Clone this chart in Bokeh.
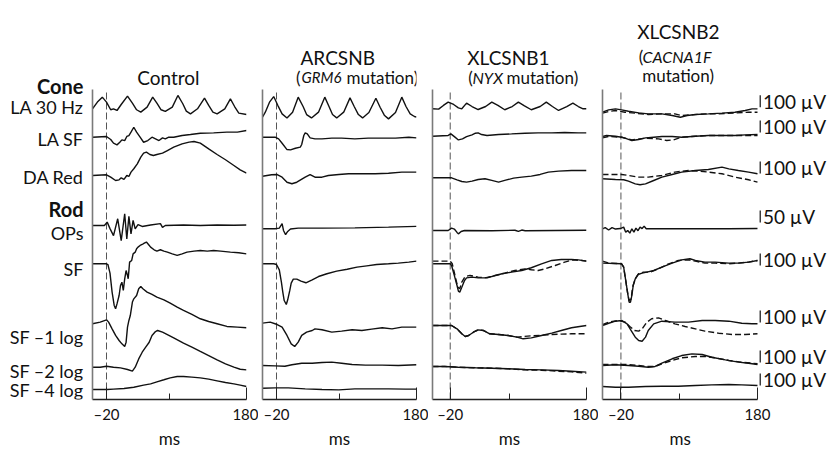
from bokeh.plotting import figure
from bokeh.models import Range1d, FixedTicker, Title
from bokeh.layouts import row
from bokeh.embed import file_html
from bokeh.resources import INLINE
from bokeh.core.properties import value

# ---------------- data: time (ms) and amplitude (µV) ----------------
ROW_NAMES = ["LA 30 Hz", "LA SF", "DA Red", "OPs", "SF", "SF –1 log", "SF –2 log", "SF –4 log"]
GROUP_NAMES = ["Cone", "Rod"]
SCALE_UV = [100, 100, 100, 50, 100, 100, 100, 100]
GAIN = [1, 1, 1, 2, 1, 1, 1, 1]

# Control
c_la30_t = [-40, -33, -26, -20, -14, -10, -5, 1, 10, 17, 23, 29, 38, 46, 52, 58, 64, 74, 82, 89, 94, 100, 110, 120, 126, 132, 138, 149, 157, 163, 169, 180]
c_la30_uv = [0, 56, 97, 56, -8, 0, -14, 36, 106, 47, -8, -28, 14, 97, 47, -8, -22, 14, 111, 42, -19, -42, 0, 89, 28, -28, -42, 0, 83, 19, -36, -47]
c_lasf_t = [-40, -20, -14, -10, -5, -1, 2, 6, 9, 12, 15, 19, 23, 28, 33, 39, 45, 50, 55, 60, 64, 69, 76, 88, 100, 114, 133, 152, 167, 180]
c_lasf_uv = [0, 6, -19, -50, -64, -42, -22, -28, 6, 14, 42, 83, 42, 0, -42, -28, 0, -14, -28, -6, -14, 0, 0, 14, 22, 33, 36, 42, 42, 56]
c_dared_t = [-40, -20, -14, -7, -2, 1, 5, 9, 12, 15, 19, 24, 29, 33, 37, 42, 47, 52, 60, 67, 76, 88, 98, 105, 114, 126, 138, 150, 162, 171, 180]
c_dared_uv = [0, 6, -14, -42, -36, -19, -33, 0, -8, 28, 56, 97, 153, 186, 195, 175, 167, 175, 186, 208, 236, 264, 278, 283, 270, 222, 175, 131, 83, 47, 19]
c_ops_t = [-40, -23, -19, -15, -10, -4, 1, 6, 9, 12, 15, 18, 21, 25, 31, 43, 57, 60, 64, 90, 114, 138, 162, 180]
c_ops_uv = [0, 0, 14, -13, -42, 28, -63, 49, -56, 38, -35, 21, -14, 4, -4, 2, 8, -8, 0, 2, 0, 2, 1, 2]
c_sf_t = [-40, -20, -18, -15, -12, -9, -7, -5, -2, 0, 2, 4, 6, 8, 10, 11, 13, 16, 18, 21, 23, 25, 28, 31, 34, 37, 40, 43, 48, 52, 57, 62, 67, 74, 81, 88, 95, 105, 114, 124, 133, 143, 157, 169, 180]
c_sf_uv = [0, 0, -6, -78, -236, -347, -375, -334, -264, -181, -153, -222, -125, -56, -97, -125, 14, 28, 83, 97, 125, 139, 153, 161, 172, 181, 161, 139, 117, 106, 117, 106, 97, 83, 70, 83, 97, 106, 111, 106, 111, 106, 97, 92, 83]
c_sf1_t = [-40, -29, -20, -17, -12, -7, -2, 2, 6, 8, 10, 12, 14, 17, 19, 23, 26, 29, 32, 38, 45, 52, 62, 71, 81, 90, 102, 114, 126, 138, 152, 167, 180]
c_sf1_uv = [0, 14, 33, 14, -42, -97, -139, -167, -189, -153, -28, 28, 69, 181, 208, 236, 292, 311, 292, 264, 245, 222, 200, 172, 139, 111, 78, 42, 19, 0, -22, -28, -33]
c_sf2_t = [-40, -29, -20, -10, 0, 10, 17, 21, 26, 31, 36, 41, 45, 50, 53, 60, 67, 76, 90, 102, 114, 126, 138, 150, 162, 171, 180]
c_sf2_uv = [0, 0, 8, 0, -6, -19, -33, 0, 69, 125, 167, 208, 264, 297, 306, 292, 272, 245, 200, 167, 131, 97, 61, 28, 0, -17, -22]
c_sf4_t = [-40, -19, -10, 5, 19, 33, 43, 52, 62, 71, 81, 90, 102, 114, 126, 138, 150, 162, 171, 180]
c_sf4_uv = [0, 0, 3, 8, 19, 36, 47, 64, 81, 97, 108, 108, 103, 97, 86, 72, 58, 47, 36, 25]

# ARCSNB (GRM6)
g_la30_t = [-40, -36, -30, -24, -18, -12, -5, 3, 11, 18, 23, 30, 40, 49, 55, 60, 66, 76, 85, 91, 97, 103, 112, 122, 128, 134, 140, 150, 159, 165, 171, 177, 180]
g_la30_uv = [0, 42, 125, 172, 97, 28, -6, 42, 167, 89, 22, -6, 42, 167, 89, 22, -6, 42, 161, 89, 22, -6, 39, 158, 83, 17, -14, 39, 167, 89, 28, 6, 0]
g_lasf_t = [-40, -22, -17, -12, -5, 0, 7, 14, 16, 19, 21, 24, 28, 35, 45, 59, 73, 92, 111, 131, 150, 169, 180]
g_lasf_uv = [0, 0, -14, -50, -103, -106, -92, -83, -61, 14, 36, 28, -6, -14, -14, -8, -8, -14, -8, -8, -8, 0, -6]
g_dared_t = [-40, -27, -19, -12, -5, 2, 9, 21, 28, 35, 45, 54, 69, 83, 102, 121, 140, 159, 180]
g_dared_uv = [-6, 6, 8, -14, -56, -69, -56, -14, 8, -14, -14, 0, 8, 14, 14, 14, 19, 28, 28]
g_ops_t = [-40, -22, -16, -12, -10, -7, -4, 0, 11, 45, 92, 140, 180]
g_ops_uv = [0, 0, 3, 22, -7, -24, -11, -1, 3, 3, 4, 7, 10]
g_sf_t = [-40, -24, -20, -16, -13, -11, -9, -6, -4, -1, 1, 4, 9, 15, 22, 31, 40, 52, 66, 81, 95, 109, 123, 140, 154, 169, 180]
g_sf_uv = [0, 0, -6, -50, -153, -236, -306, -339, -300, -222, -161, -128, -128, -145, -158, -133, -106, -83, -61, -45, -28, -17, -6, 0, 6, 14, 22]
g_sf1_t = [-40, -29, -19, -12, -5, 1, 6, 11, 16, 23, 31, 35, 45, 59, 73, 88, 102, 116, 131, 145, 159, 173, 180]
g_sf1_uv = [6, 14, -6, -28, -97, -167, -189, -153, -97, -69, -56, -42, -50, -69, -61, -50, -56, -44, -33, -42, -28, -28, -28]
g_sf2_t = [-40, -22, -8, 2, 16, 31, 45, 59, 73, 88, 107, 131, 154, 180]
g_sf2_uv = [0, -3, -6, 6, 19, 19, 25, 28, 19, 8, 3, 3, 0, 6]
g_sf4_t = [-40, -22, -3, 21, 45, 69, 92, 116, 140, 164, 180]
g_sf4_uv = [0, 3, 3, -6, -11, -14, -6, -6, -6, -8, -8]

# XLCSNB1 (NYX); solid and dashed traces
n_la30_t = [-46, -37, -30, -23, -15, -8, -3, 4, 12, 21, 32, 41, 50, 60, 71, 80, 89, 99, 112, 121, 130, 139, 151, 160, 168, 175, 180]
n_la30_uv = [0, -3, 28, 56, 36, 8, 0, 47, 19, -6, 19, 56, 28, -8, 19, 56, 25, -8, 19, 56, 19, -14, 19, 47, 19, 0, 0]
n_lasf_t = [-46, -23, -19, -13, -8, -2, 4, 12, 17, 21, 26, 34, 51, 70, 90, 109, 129, 148, 168, 180]
n_lasf_uv = [0, 6, 19, -8, -31, -22, -3, 11, 25, 28, 14, 6, 14, 19, 25, 28, 28, 31, 28, 28]
n_dared_t = [-46, -18, -10, -3, 4, 12, 21, 31, 41, 51, 60, 73, 85, 99, 112, 124, 139, 158, 180]
n_dared_uv = [0, 0, -17, -31, -36, -28, -14, -8, -22, -36, -22, -3, 6, 14, 28, 47, 56, 61, 61]
n_ops_t = [-46, -23, -18, -14, -10, -8, -4, 1, 41, 75, 80, 85, 90, 180]
n_ops_uv = [0, 0, 10, 6, -8, -14, -4, 0, -1, 1, -4, 2, -1, 1]
n_sf_t = [-46, -20, -18, -14, -10, -8, -6, -3, 1, 4, 12, 21, 31, 41, 56, 70, 85, 99, 114, 129, 143, 158, 168, 180]
n_sf_uv = [0, 0, -14, -97, -181, -228, -236, -195, -139, -117, -111, -117, -117, -106, -83, -69, -56, -33, 0, 28, 36, 36, 33, 22]
n_sf_d_t = [-46, -20, -17, -13, -9, -6, -3, 2, 9, 21, 34, 46, 60, 75, 90, 99, 109, 119, 134, 148, 160, 173, 180]
n_sf_d_uv = [22, 22, 0, -97, -194, -208, -153, -106, -97, -111, -117, -97, -78, -56, -42, -50, -56, -42, -14, 14, 33, 28, 22]
n_sf1_t = [-46, -18, -10, -3, 2, 7, 14, 21, 29, 38, 51, 65, 78, 87, 99, 114, 129, 143, 158, 170, 180]
n_sf1_uv = [0, 0, -28, -69, -92, -83, -56, -36, -42, -69, -75, -83, -97, -111, -103, -83, -64, -42, -19, -8, 0]
n_sf1_d_uv = [0, 0, -28, -69, -92, -83, -56, -36, -42, -69, -75, -83, -97, -92, -86, -81, -75, -72, -69, -69, -69]
n_sf2_t = [-46, -28, -8, 17, 41, 65, 90, 114, 139, 158, 180]
n_sf2_uv = [0, 0, -6, -11, -14, -19, -25, -28, -33, -39, -47]
n_sf2_d_uv = [0, 0, -6, -11, -14, -19, -28, -31, -39, -44, -56]

# XLCSNB2 (CACNA1F); solid and dashed traces
k_la30_t = [-47, -38, -28, -19, -9, 6, 20, 40, 55, 67, 77, 89, 108, 128, 147, 162, 172, 180]
k_la30_uv = [0, 19, 28, 19, 8, -6, -14, -14, -28, -42, -28, -19, -14, -8, 0, 14, 28, 28]
k_la30_d_t = [-47, -38, -28, -14, 1, 20, 40, 59, 69, 84, 103, 123, 147, 167, 180]
k_la30_d_uv = [-8, 6, 14, 0, -8, -19, -14, -14, -28, -22, -14, -14, -6, 0, 0]
k_lasf_t = [-47, -41, -28, -19, -11, -4, 6, 16, 28, 40, 55, 69, 89, 108, 128, 147, 162, 180]
k_lasf_uv = [6, 14, 8, 0, -14, -28, -19, -6, 0, 6, 6, 0, 8, 14, 14, 14, 19, 22]
k_lasf_d_t = [-47, -38, -19, -4, 16, 35, 47, 57, 69, 89, 108, 128, 147, 167, 180]
k_lasf_d_uv = [-6, 6, 0, -22, -8, -14, -28, -22, 0, 8, 14, 14, 14, 14, 14]
k_dared_t = [-47, -28, -16, -9, 1, 8, 16, 28, 40, 55, 69, 89, 108, 128, 138, 152, 167, 180]
k_dared_uv = [0, -6, -8, -19, -42, -50, -42, -14, 14, 36, 56, 69, 78, 97, 83, 69, 56, 42]
k_dared_d_t = [-47, -28, -19, -9, 6, 20, 40, 59, 79, 94, 108, 128, 147, 167, 180]
k_dared_d_uv = [36, 36, 36, 28, 14, 14, 28, 56, 69, 64, 56, 42, 14, -8, -28]
k_ops_t = [-47, -43, -38, -33, -28, -21, -16, -13, -10, -7, -4, -1, 2, 5, 8, 11, 14, 17, 40, 89, 138, 180]
k_ops_uv = [0, 5, -5, 5, -1, 1, 7, -14, -7, -18, 0, -14, 3, -8, 7, 1, 11, 0, 0, 0, 0, 1]
k_sf_t = [-47, -19, -16, -13, -10, -8, -6, -4, -2, 1, 5, 11, 18, 28, 40, 55, 69, 81, 89, 103, 118, 138, 152, 167, 180]
k_sf_uv = [6, 0, -28, -139, -250, -320, -320, -264, -181, -125, -89, -78, -69, -56, -28, 6, 33, 42, 28, 14, 14, 6, 6, 14, 28]
k_sf_d_t = [-47, -38, -19, -16, -13, -10, -8, -5, -3, 1, 6, 13, 23, 35, 50, 64, 79, 89, 103, 118, 138, 152, 167, 180]
k_sf_d_uv = [22, 6, 0, -28, -139, -250, -306, -292, -195, -125, -83, -69, -69, -42, 0, 28, 33, 22, 6, 6, 0, 6, 14, 28]
k_sf1_t = [-47, -38, -28, -19, -11, -5, 1, 6, 11, 16, 20, 28, 40, 59, 79, 99, 118, 138, 157, 172, 180]
k_sf1_uv = [0, 19, 36, 42, 14, -42, -97, -125, -131, -97, -42, 14, 36, 28, 28, 42, 42, 36, 19, 14, 14]
k_sf1_d_t = [-47, -38, -24, -14, -7, 0, 6, 11, 18, 25, 35, 45, 59, 74, 89, 103, 123, 143, 162, 180]
k_sf1_d_uv = [8, 28, 42, 28, -8, -42, -47, -28, 28, 56, 64, 42, 14, -8, -28, -47, -64, -75, -75, -69]
k_sf2_t = [-47, -28, -9, 6, 20, 30, 40, 55, 69, 84, 99, 113, 133, 152, 167, 180]
k_sf2_uv = [0, 6, 0, -6, -14, -8, 19, 56, 83, 97, 92, 69, 47, 28, 19, 8]
k_sf2_d_t = [-47, -28, -9, 6, 20, 30, 40, 55, 69, 89, 103, 118, 138, 157, 180]
k_sf2_d_uv = [8, 8, 8, 0, -8, -8, 14, 42, 64, 75, 75, 64, 42, 28, 14]
k_sf4_t = [-47, -28, -9, 16, 40, 64, 89, 113, 138, 157, 180]
k_sf4_uv = [6, 0, 0, 6, 8, 8, 14, 19, 22, 19, 14]

# ---------------- layout / style ----------------
FONT = "Lato"
INK = "#111111"
H = 450
BOTTOM = 51                 # below the time axis
PLOT_TOP = 399              # frame reaches the top of the page; y unit = 1 px above the axis
TRACE_H = 310               # height of the trace area (left axis length)
UV_PX = 0.12                # 100 µV = 12 px

BASE_C = [290.7, 262.3, 224, 174, 135.7, 75.7, 32.3, 10]
BASE_G = [282.3, 262.3, 224, 170.7, 135.7, 75.7, 34, 11.3]
BASE_N = [290.7, 263.3, 221.7, 169, 135.7, 74, 33, None]
BASE_K = [287.3, 262.3, 220.7, 170.7, 135.7, 74, 34, 12.3]
SCALE_Y = [298.3, 273, 232, 183, 140, 83, 43, 20]
ROW_LABEL_Y = [293, 261, 223, 167, 131, 63, 28.5, 9.5]
GROUP_LABEL_Y = [314, 191]


def txt(p, x, y, s, size="18px", style="normal", align="left", baseline="alphabetic"):
    p.text(x=[x], y=[y], text=[s], text_font=value(FONT), text_font_size=size,
           text_font_style=style, text_align=align, text_baseline=baseline, text_color=INK)


def make_fig(x0, x1, width, left, right, ms_align="center", ms_offset=0):
    p = figure(width=width, height=H, x_range=Range1d(x0, x1), y_range=Range1d(0, PLOT_TOP),
               min_border_left=left, min_border_right=right, min_border_top=0,
               min_border_bottom=BOTTOM, output_backend="svg", toolbar_location=None)
    p.outline_line_color = None
    p.xgrid.visible = False
    p.ygrid.visible = False
    p.background_fill_color = "white"
    p.border_fill_color = "white"
    xa = p.xaxis[0]
    xa.ticker = FixedTicker(ticks=[-20, 180], minor_ticks=[(x0 + 180) / 2])
    xa.major_label_overrides = {-20: "–20", 180: "180"}
    xa.bounds = (x0, 180)
    xa.axis_line_color = "#222222"
    xa.axis_line_width = 1.3
    xa.major_tick_line_color = "#222222"
    xa.minor_tick_line_color = "#222222"
    xa.major_tick_in = 12
    xa.major_tick_out = 0
    xa.minor_tick_in = 6
    xa.minor_tick_out = 0
    xa.major_label_standoff = 5
    xa.major_label_text_font = FONT
    xa.major_label_text_font_size = "15px"
    xa.major_label_text_color = INK
    xa.axis_label = None
    p.add_layout(Title(text="ms", align=ms_align, offset=ms_offset, standoff=1,
                       text_font=FONT, text_font_size="17px", text_font_style="normal",
                       text_color=INK), "below")
    ya = p.yaxis[0]
    ya.ticker = FixedTicker(ticks=[])
    ya.bounds = (0, TRACE_H)
    ya.major_tick_in = 0
    ya.major_tick_out = 0
    ya.minor_tick_in = 0
    ya.minor_tick_out = 0
    ya.major_label_standoff = 0
    ya.axis_line_color = "#7a7a7a"
    ya.axis_line_width = 1.6
    # stimulus marker at -20 ms
    p.segment(x0=[-20], y0=[0], x1=[-20], y1=[TRACE_H], line_color="#555555",
              line_dash="7 3", line_width=1)
    return p


def trace(p, t, uv, base, row_i, dashed=False):
    y = [base + v * UV_PX * GAIN[row_i] for v in uv]
    p.line(t, y, line_color=INK, line_width=1.4,
           line_dash="6 3" if dashed else "solid")


# ---- row labels (own narrow figure, no axes) ----
p0 = figure(width=88, height=H, x_range=Range1d(0, 88), y_range=Range1d(0, PLOT_TOP),
            min_border_left=0, min_border_right=0, min_border_top=0, min_border_bottom=BOTTOM,
            x_axis_type=None, y_axis_type=None, output_backend="svg", toolbar_location=None)
p0.outline_line_color = None
p0.xgrid.visible = False
p0.ygrid.visible = False
LX = 83
for name, yy in zip(GROUP_NAMES, GROUP_LABEL_Y):
    txt(p0, LX, yy, name, size="20px", style="bold", align="right", baseline="middle")
for name, yy in zip(ROW_NAMES, ROW_LABEL_Y):
    txt(p0, LX, yy, name, align="right", baseline="middle")

# ---- panel 1: Control ----
p1 = make_fig(-40, 180, 170, 4, 12)
c_rows = [(c_la30_t, c_la30_uv), (c_lasf_t, c_lasf_uv), (c_dared_t, c_dared_uv), (c_ops_t, c_ops_uv),
          (c_sf_t, c_sf_uv), (c_sf1_t, c_sf1_uv), (c_sf2_t, c_sf2_uv), (c_sf4_t, c_sf4_uv)]
for i, (t, uv) in enumerate(c_rows):
    trace(p1, t, uv, BASE_C[i], i)
txt(p1, 23.9, 321.7, "Control", size="19px")

# ---- panel 2: ARCSNB ----
p2 = make_fig(-40, 180, 170, 4, 12)
g_rows = [(g_la30_t, g_la30_uv), (g_lasf_t, g_lasf_uv), (g_dared_t, g_dared_uv), (g_ops_t, g_ops_uv),
          (g_sf_t, g_sf_uv), (g_sf1_t, g_sf1_uv), (g_sf2_t, g_sf2_uv), (g_sf4_t, g_sf4_uv)]
for i, (t, uv) in enumerate(g_rows):
    trace(p2, t, uv, BASE_G[i], i)
txt(p2, 14.3, 341.7, "ARCSNB", size="19px")
txt(p2, 7.8, 322.3, "(", size="17px")
txt(p2, 15.7, 322.3, "GRM6", size="15px", style="italic")
txt(p2, 80.0, 322.3, "mutation)", size="17px")

# ---- panel 3: XLCSNB1 ----
p3 = make_fig(-46, 180, 170, 4, 12)
n_rows = [(n_la30_t, n_la30_uv), (n_lasf_t, n_lasf_uv), (n_dared_t, n_dared_uv), (n_ops_t, n_ops_uv),
          (n_sf_t, n_sf_uv), (n_sf1_t, n_sf1_uv), (n_sf2_t, n_sf2_uv)]
for i, (t, uv) in enumerate(n_rows):
    trace(p3, t, uv, BASE_N[i], i)
trace(p3, n_sf_d_t, n_sf_d_uv, BASE_N[4], 4, dashed=True)
trace(p3, n_sf1_t, n_sf1_d_uv, BASE_N[5], 5, dashed=True)
trace(p3, n_sf2_t, n_sf2_d_uv, BASE_N[6], 6, dashed=True)
txt(p3, 4.9, 341.7, "XLCSNB1", size="19px")
txt(p3, 6.4, 322.3, "(", size="17px")
txt(p3, 12.7, 322.3, "NYX", size="16px", style="italic")
txt(p3, 62.6, 322.3, "mutation)", size="17px")

# ---- panel 4: XLCSNB2 (frame extends right to hold the calibration bars) ----
p4 = make_fig(-47, 292.8, 236, 4, 0, ms_align="left", ms_offset=67)
k_rows = [(k_la30_t, k_la30_uv), (k_lasf_t, k_lasf_uv), (k_dared_t, k_dared_uv), (k_ops_t, k_ops_uv),
          (k_sf_t, k_sf_uv), (k_sf1_t, k_sf1_uv), (k_sf2_t, k_sf2_uv), (k_sf4_t, k_sf4_uv)]
for i, (t, uv) in enumerate(k_rows):
    trace(p4, t, uv, BASE_K[i], i)
k_dash = [(0, k_la30_d_t, k_la30_d_uv), (1, k_lasf_d_t, k_lasf_d_uv), (2, k_dared_d_t, k_dared_d_uv),
          (4, k_sf_d_t, k_sf_d_uv), (5, k_sf1_d_t, k_sf1_d_uv), (6, k_sf2_d_t, k_sf2_d_uv)]
for i, t, uv in k_dash:
    trace(p4, t, uv, BASE_K[i], i, dashed=True)
txt(p4, 3.8, 368.3, "XLCSNB2", size="19px")
txt(p4, 6.2, 343, "(", size="17px")
txt(p4, 11.6, 343, "CACNA1F", size="16px", style="italic")
txt(p4, 11.2, 324, "mutation)", size="17px")

BAR_X = 184
half = [s * UV_PX * g / 2 for s, g in zip(SCALE_UV, GAIN)]
p4.segment(x0=[BAR_X] * len(SCALE_Y), y0=[yc - h for yc, h in zip(SCALE_Y, half)],
           x1=[BAR_X] * len(SCALE_Y), y1=[yc + h for yc, h in zip(SCALE_Y, half)],
           line_color=INK, line_width=1.2)
p4.text(x=[188] * len(SCALE_Y), y=SCALE_Y, text=[f"{s} µV" for s in SCALE_UV],
        text_font=value(FONT), text_font_size="19px", text_align="left",
        text_baseline="middle", text_color=INK)

layout = row(p0, p1, p2, p3, p4)
open("out.html", "w").write(file_html(layout, INLINE))
